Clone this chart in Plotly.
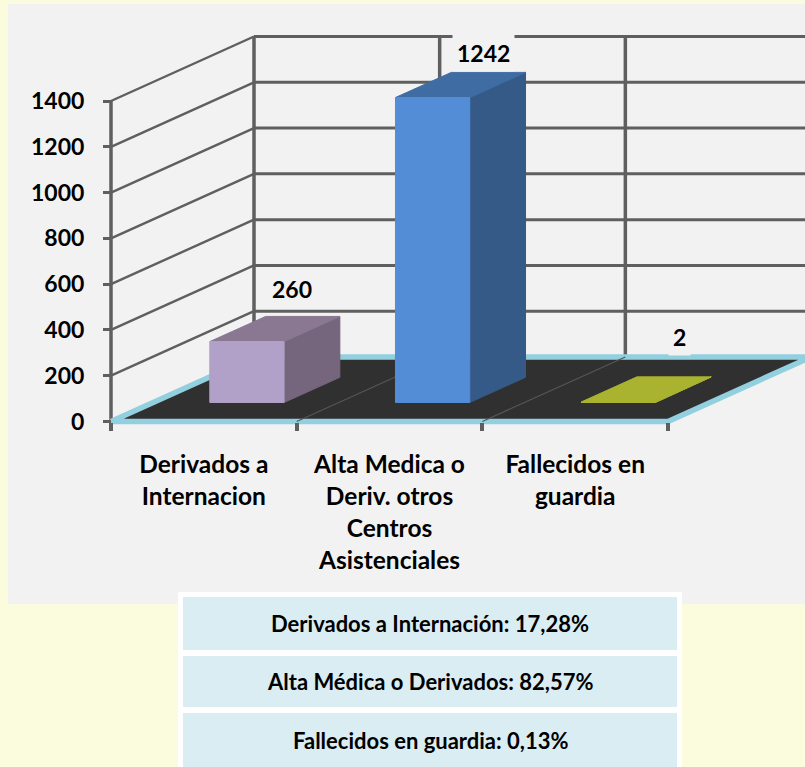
import plotly.graph_objects as go

# --- data ---
categories = ["Derivados a<br>Internacion", "Alta Medica o<br>Deriv. otros<br>Centros<br>Asistenciales", "Fallecidos en<br>guardia"]
value_labels = ["260", "1242", "2"]
# drawn height of each bar, read against the value axis
bar_heights = [266, 1332, 2]
y_ticks = [0, 200, 400, 600, 800, 1000, 1200, 1400]
table_rows = ["Derivados a Internación: 17,28%", "Alta Médica o Derivados: 82,57%", "Fallecidos en guardia: 0,13%"]

# --- styles ---
FONT = "Lato"
GRID = "#5F5F5F"
FLOOR = "#303030"
EDGE = "#92CFDF"
front_cols = ["#B1A0C7", "#538DD5", "#AAB32F"]
top_cols = ["#8A7893", "#3F6CA3", "#AAB32F"]
side_cols = ["#75657D", "#355A87", "#AAB32F"]
label_shift = [(45, 53), (51, 45), (61.5, 65)]

W, H = 805, 767
X0, Y0 = 111, 421.5      # pixel of category 0 / value 0 on the front plane
PX_CAT = 185.67          # pixels per category
PX_VAL = 320.5 / 1400    # pixels per value unit
DEPTH_X = 143 / PX_CAT   # category units added by full depth
DEPTH_Y = 64.5 / PX_VAL  # value units added by full depth
GAP = 0.305
BAR_W = 0.4
D0, D1 = 0.295, 0.685    # bar depth extent


def pt(cat, val, depth=0.0):
    return cat + depth * DEPTH_X, val + depth * DEPTH_Y


fig = go.Figure()


def poly(points, fill=None, line=None, width=1):
    xs, ys = zip(*points)
    fig.add_trace(go.Scatter(
        x=list(xs), y=list(ys), mode="lines", hoverinfo="skip", showlegend=False,
        fill="toself" if fill else None, fillcolor=fill,
        line=dict(color=line or fill, width=width, shape="linear"),
    ))


# walls
for v in y_ticks[1:]:
    poly([pt(0, v, 0), pt(0, v, 1)], line=GRID, width=2.4)
    poly([pt(0, v, 1), pt(3, v, 1)], line=GRID, width=3)
for c in range(4):
    poly([pt(c, 0, 1), pt(c, y_ticks[-1], 1)], line=GRID, width=3.5)
poly([pt(0, 0, 0), pt(0, y_ticks[-1], 0)], line=GRID, width=3.5)

# floor
poly([pt(0, 0, 0), pt(3, 0, 0), pt(3, 0, 1), pt(0, 0, 1), pt(0, 0, 0)], fill=FLOOR, line=EDGE, width=5.5)
for c in (1, 2):
    poly([pt(c, 0, 0), pt(c, 0, 1)], line="#555555", width=1.2)

# bars
for i, h in enumerate(bar_heights):
    a, b = i + GAP, i + GAP + BAR_W
    poly([pt(b, 0, D0), pt(b, 0, D1), pt(b, h, D1), pt(b, h, D0), pt(b, 0, D0)], fill=side_cols[i])
    poly([pt(a, h, D0), pt(b, h, D0), pt(b, h, D1), pt(a, h, D1), pt(a, h, D0)], fill=top_cols[i])
    poly([pt(a, 0, D0), pt(b, 0, D0), pt(b, h, D0), pt(a, h, D0), pt(a, 0, D0)], fill=front_cols[i])

annotations = []
for i, h in enumerate(bar_heights):
    x, y = pt(i + GAP + BAR_W / 2, h, D0)
    annotations.append(dict(
        x=x, y=y, xref="x", yref="y", text=value_labels[i], showarrow=False,
        xshift=label_shift[i][0], yshift=label_shift[i][1],
        xanchor="center", yanchor="middle", bgcolor="#F2F2F2", borderpad=4,
        font=dict(family=FONT, size=23, color="#000000", weight="bold"),
    ))

# table
cell_tops = [597, 656, 713]
cell_bots = [650, 707, 767]
shapes = [
    dict(type="rect", xref="paper", yref="paper", x0=0, x1=1, y0=0, y1=1, fillcolor="#FBFBDD", line_width=0, layer="below"),
    dict(type="rect", xref="paper", yref="paper", x0=8 / W, x1=1, y0=1 - 604 / H, y1=1 - 4 / H, fillcolor="#F2F2F2", line_width=0, layer="below"),
    dict(type="rect", xref="paper", yref="paper", x0=178 / W, x1=682 / W, y0=0, y1=1 - 592 / H, fillcolor="#FFFFFF", line_width=0, layer="above"),
]
for row, t, b in zip(table_rows, cell_tops, cell_bots):
    shapes.append(dict(type="rect", xref="paper", yref="paper", x0=183 / W, x1=677 / W, y0=1 - b / H, y1=1 - t / H,
                       fillcolor="#DAEDF3", line_width=0, layer="above"))
    annotations.append(dict(x=430 / W, y=1 - (t + b) / 2 / H, xref="paper", yref="paper", text=row, showarrow=False,
                            xanchor="center", yanchor="middle", font=dict(family=FONT, size=22, color="#000000", weight="bold")))

fig.update_layout(
    width=W, height=H, margin=dict(l=0, r=0, t=0, b=0), autosize=False,
    paper_bgcolor="#FBFBDD", plot_bgcolor="rgba(0,0,0,0)", showlegend=False,
    shapes=shapes, annotations=annotations,
    xaxis=dict(
        range=[(0 - X0) / PX_CAT, (W - X0) / PX_CAT], domain=[0, 1], anchor="free", position=1 - Y0 / H,
        tickmode="array", tickvals=[i + 0.5 for i in range(len(categories))], ticktext=categories,
        ticks="", ticklabelstandoff=26, showgrid=False, zeroline=False, showline=False,
        tickfont=dict(family=FONT, size=24.5, color="#000000", weight="bold"),
        minor=dict(tickmode="array", tickvals=[0, 1, 2, 3], ticks="outside", ticklen=8, tickwidth=4, tickcolor=GRID, showgrid=False),
    ),
    yaxis=dict(
        range=[(Y0 - H) / PX_VAL, Y0 / PX_VAL], domain=[0, 1], anchor="free", position=X0 / W,
        tickmode="array", tickvals=y_ticks, ticks="outside", ticklen=8, tickwidth=3, tickcolor=GRID,
        ticklabelstandoff=14, showgrid=False, zeroline=False, showline=False,
        tickfont=dict(family=FONT, size=23, color="#000000", weight="bold"),
    ),
)
fig.write_html("out.html", config={"displayModeBar": False},
               post_script="document.documentElement.style.margin='0';document.body.style.margin='0';")
